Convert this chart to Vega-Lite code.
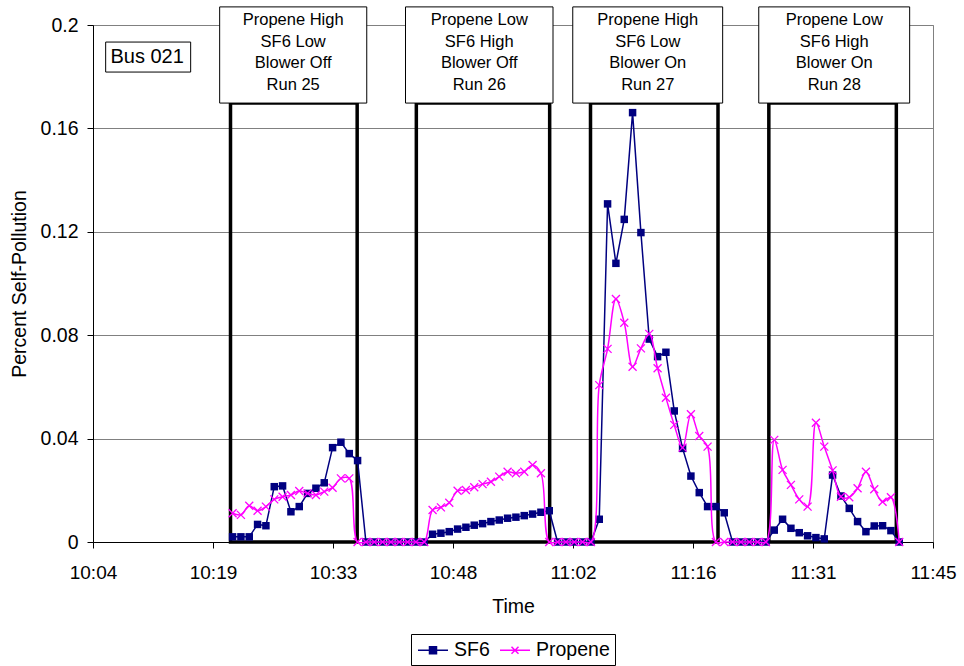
{
  "$schema": "https://vega.github.io/schema/vega-lite/v6.json",
  "width": 840,
  "height": 517,
  "autosize": {"type": "none"},
  "padding": {"left": 93, "top": 25, "right": 31, "bottom": 124},
  "background": "white",
  "config": {"font": "Liberation Sans", "view": {"stroke": "#808080", "strokeWidth": 1}},
  "datasets": {
    "pts": [
      {"t":621.55,"s":"SF6","v":0.002},{"t":622.55,"s":"SF6","v":0.002},{"t":623.55,"s":"SF6","v":0.002},{"t":624.55,"s":"SF6","v":0.0068},{"t":625.55,"s":"SF6","v":0.0063},{"t":626.55,"s":"SF6","v":0.0214},{"t":627.55,"s":"SF6","v":0.0217},{"t":628.55,"s":"SF6","v":0.0117},{"t":629.55,"s":"SF6","v":0.0137},{"t":630.55,"s":"SF6","v":0.0188},{"t":631.55,"s":"SF6","v":0.0208},{"t":632.55,"s":"SF6","v":0.0229},{"t":633.55,"s":"SF6","v":0.0365},{"t":634.55,"s":"SF6","v":0.0386},{"t":635.55,"s":"SF6","v":0.0342},{"t":636.55,"s":"SF6","v":0.0315},
      {"t":637.55,"s":"SF6","v":0},{"t":638.55,"s":"SF6","v":0},{"t":639.55,"s":"SF6","v":0},{"t":640.55,"s":"SF6","v":0},{"t":641.55,"s":"SF6","v":0},{"t":642.55,"s":"SF6","v":0},{"t":643.55,"s":"SF6","v":0},{"t":644.55,"s":"SF6","v":0},
      {"t":645.55,"s":"SF6","v":0.003},{"t":646.55,"s":"SF6","v":0.0034},{"t":647.55,"s":"SF6","v":0.004},{"t":648.55,"s":"SF6","v":0.005},{"t":649.55,"s":"SF6","v":0.0057},{"t":650.55,"s":"SF6","v":0.0065},{"t":651.55,"s":"SF6","v":0.0071},{"t":652.55,"s":"SF6","v":0.0079},{"t":653.55,"s":"SF6","v":0.0085},{"t":654.55,"s":"SF6","v":0.0092},{"t":655.55,"s":"SF6","v":0.0096},{"t":656.55,"s":"SF6","v":0.0102},{"t":657.55,"s":"SF6","v":0.0108},{"t":658.55,"s":"SF6","v":0.0115},{"t":659.55,"s":"SF6","v":0.0121},
      {"t":660.55,"s":"SF6","v":0},{"t":661.55,"s":"SF6","v":0},{"t":662.55,"s":"SF6","v":0},{"t":663.55,"s":"SF6","v":0},{"t":664.55,"s":"SF6","v":0},
      {"t":665.55,"s":"SF6","v":0.0088},{"t":666.55,"s":"SF6","v":0.1308},{"t":667.55,"s":"SF6","v":0.1078},{"t":668.55,"s":"SF6","v":0.1248},{"t":669.55,"s":"SF6","v":0.1661},{"t":670.55,"s":"SF6","v":0.1197},{"t":671.55,"s":"SF6","v":0.0785},{"t":672.55,"s":"SF6","v":0.0717},{"t":673.55,"s":"SF6","v":0.0734},{"t":674.55,"s":"SF6","v":0.0507},{"t":675.55,"s":"SF6","v":0.0362},{"t":676.55,"s":"SF6","v":0.0255},{"t":677.55,"s":"SF6","v":0.0191},{"t":678.55,"s":"SF6","v":0.0137},{"t":679.55,"s":"SF6","v":0.0137},{"t":680.55,"s":"SF6","v":0.0113},
      {"t":681.55,"s":"SF6","v":0},{"t":682.55,"s":"SF6","v":0},{"t":683.55,"s":"SF6","v":0},{"t":684.55,"s":"SF6","v":0},{"t":685.55,"s":"SF6","v":0},
      {"t":686.55,"s":"SF6","v":0.0046},{"t":687.55,"s":"SF6","v":0.0088},{"t":688.55,"s":"SF6","v":0.0053},{"t":689.55,"s":"SF6","v":0.0036},{"t":690.55,"s":"SF6","v":0.0024},{"t":691.55,"s":"SF6","v":0.0017},{"t":692.55,"s":"SF6","v":0.0012},{"t":693.55,"s":"SF6","v":0.0259},{"t":694.55,"s":"SF6","v":0.0178},{"t":695.55,"s":"SF6","v":0.013},{"t":696.55,"s":"SF6","v":0.0079},{"t":697.55,"s":"SF6","v":0.004},{"t":698.55,"s":"SF6","v":0.0062},{"t":699.55,"s":"SF6","v":0.0063},{"t":700.55,"s":"SF6","v":0.0044},{"t":701.55,"s":"SF6","v":0},
      {"t":621.55,"s":"Propene","v":0.0111},{"t":622.55,"s":"Propene","v":0.0105},{"t":623.55,"s":"Propene","v":0.014},{"t":624.55,"s":"Propene","v":0.0121},{"t":625.55,"s":"Propene","v":0.0137},{"t":626.55,"s":"Propene","v":0.0165},{"t":627.55,"s":"Propene","v":0.0175},{"t":628.55,"s":"Propene","v":0.0182},{"t":629.55,"s":"Propene","v":0.0197},{"t":630.55,"s":"Propene","v":0.0188},{"t":631.55,"s":"Propene","v":0.0182},{"t":632.55,"s":"Propene","v":0.0195},{"t":633.55,"s":"Propene","v":0.021},{"t":634.55,"s":"Propene","v":0.0246},{"t":635.55,"s":"Propene","v":0.0246},{"t":636.55,"s":"Propene","v":0},
      {"t":637.55,"s":"Propene","v":0},{"t":638.55,"s":"Propene","v":0},{"t":639.55,"s":"Propene","v":0},{"t":640.55,"s":"Propene","v":0},{"t":641.55,"s":"Propene","v":0},{"t":642.55,"s":"Propene","v":0},{"t":643.55,"s":"Propene","v":0},{"t":644.55,"s":"Propene","v":0},
      {"t":645.55,"s":"Propene","v":0.0124},{"t":646.55,"s":"Propene","v":0.0134},{"t":647.55,"s":"Propene","v":0.0152},{"t":648.55,"s":"Propene","v":0.0198},{"t":649.55,"s":"Propene","v":0.0201},{"t":650.55,"s":"Propene","v":0.0212},{"t":651.55,"s":"Propene","v":0.0224},{"t":652.55,"s":"Propene","v":0.0233},{"t":653.55,"s":"Propene","v":0.0253},{"t":654.55,"s":"Propene","v":0.0272},{"t":655.55,"s":"Propene","v":0.0266},{"t":656.55,"s":"Propene","v":0.0272},{"t":657.55,"s":"Propene","v":0.0298},{"t":658.55,"s":"Propene","v":0.0266},{"t":659.55,"s":"Propene","v":0},
      {"t":660.55,"s":"Propene","v":0},{"t":661.55,"s":"Propene","v":0},{"t":662.55,"s":"Propene","v":0},{"t":663.55,"s":"Propene","v":0},{"t":664.55,"s":"Propene","v":0},
      {"t":665.55,"s":"Propene","v":0.0607},{"t":666.55,"s":"Propene","v":0.0747},{"t":667.55,"s":"Propene","v":0.094},{"t":668.55,"s":"Propene","v":0.0848},{"t":669.55,"s":"Propene","v":0.0678},{"t":670.55,"s":"Propene","v":0.0749},{"t":671.55,"s":"Propene","v":0.0805},{"t":672.55,"s":"Propene","v":0.0672},{"t":673.55,"s":"Propene","v":0.0558},{"t":674.55,"s":"Propene","v":0.0453},{"t":675.55,"s":"Propene","v":0.0365},{"t":676.55,"s":"Propene","v":0.0494},{"t":677.55,"s":"Propene","v":0.041},{"t":678.55,"s":"Propene","v":0.0369},{"t":679.55,"s":"Propene","v":0},{"t":680.55,"s":"Propene","v":0},
      {"t":681.55,"s":"Propene","v":0},{"t":682.55,"s":"Propene","v":0},{"t":683.55,"s":"Propene","v":0},{"t":684.55,"s":"Propene","v":0},{"t":685.55,"s":"Propene","v":0},
      {"t":686.55,"s":"Propene","v":0.0395},{"t":687.55,"s":"Propene","v":0.0279},{"t":688.55,"s":"Propene","v":0.0221},{"t":689.55,"s":"Propene","v":0.0165},{"t":690.55,"s":"Propene","v":0.0137},{"t":691.55,"s":"Propene","v":0.0461},{"t":692.55,"s":"Propene","v":0.0369},{"t":693.55,"s":"Propene","v":0.0277},{"t":694.55,"s":"Propene","v":0.0175},{"t":695.55,"s":"Propene","v":0.0173},{"t":696.55,"s":"Propene","v":0.0208},{"t":697.55,"s":"Propene","v":0.0272},{"t":698.55,"s":"Propene","v":0.0204},{"t":699.55,"s":"Propene","v":0.0156},{"t":700.55,"s":"Propene","v":0.0173},{"t":701.55,"s":"Propene","v":0}
    ],
    "runs": [
      {"a":621.3,"b":636.5},{"a":643.6,"b":659.6},{"a":664.5,"b":679.8},{"a":685.9,"b":701.2}
    ],
    "boxes": [
      {"a":620.0,"b":637.65,"c":628.82,"label":"Propene High\nSF6 Low\nBlower Off\nRun 25"},
      {"a":642.3,"b":660.0,"c":651.15,"label":"Propene Low\nSF6 High\nBlower Off\nRun 26"},
      {"a":662.37,"b":680.36,"c":671.37,"label":"Propene High\nSF6 Low\nBlower On\nRun 27"},
      {"a":684.69,"b":702.8,"c":693.75,"label":"Propene Low\nSF6 High\nBlower On\nRun 28"}
    ],
    "bus": [
      {"a":606.32,"b":616.52,"c":611.3,"label":"Bus 021"}
    ]
  },
  "layer": [
    {
      "data": {"name": "pts"},
      "transform": [{"filter": "datum.s === 'SF6'"}],
      "mark": {"type": "line", "strokeWidth": 1.5, "opacity": 0},
      "encoding": {
        "x": {"field": "t", "type": "quantitative", "scale": {"domain": [604.8, 705.6], "nice": false, "zero": false},
          "axis": {"values": [604.8, 619.2, 633.6, 648, 662.4, 676.8, 691.2, 705.6],
            "labelExpr": "floor(datum.value/60) + ':' + (floor(datum.value%60) < 10 ? '0' : '') + floor(datum.value%60)",
            "grid": false, "domainColor": "black", "domainWidth": 1, "tickColor": "black", "tickSize": 6,
            "labelFontSize": 19, "labelColor": "black", "labelPadding": 15, "labelFlush": false, "labelOverlap": false,
            "title": "Time", "titleFontSize": 19.5, "titleFontWeight": "normal", "titleColor": "black", "titleY": 55, "titleX": 420}},
        "y": {"field": "v", "type": "quantitative", "scale": {"domain": [0, 0.2], "nice": false},
          "axis": {"values": [0, 0.04, 0.08, 0.12, 0.16, 0.2],
            "labelExpr": "format(datum.value, '~g')",
            "grid": true, "gridColor": "#808080", "gridWidth": 1, "domainColor": "black", "domainWidth": 1, "tickColor": "black", "tickSize": 6,
            "labelFontSize": 19.5, "labelColor": "black", "labelPadding": 9,
            "title": "Percent Self-Pollution", "titleFontSize": 19.5, "titleFontWeight": "normal", "titleColor": "black",
            "titleX": -68, "titleY": 258.5, "titleAngle": 270, "titleBaseline": "alphabetic", "titleAlign": "center"}}
      }
    },
    {
      "data": {"name": "runs"},
      "mark": {"type": "rect", "fillOpacity": 0, "stroke": "black", "strokeWidth": 3.5},
      "encoding": {
        "x": {"field": "a", "type": "quantitative", "scale": {"domain": [604.8, 705.6], "nice": false, "zero": false}},
        "x2": {"field": "b"},
        "y": {"datum": 0, "type": "quantitative", "scale": {"domain": [0, 0.2], "nice": false}},
        "y2": {"datum": 0.1698}
      }
    },
    {
      "data": {"name": "pts"},
      "transform": [{"filter": "datum.s === 'SF6'"}],
      "mark": {"type": "line", "strokeWidth": 1.5},
      "encoding": {
        "x": {"field": "t", "type": "quantitative", "scale": {"domain": [604.8, 705.6], "nice": false, "zero": false}},
        "y": {"field": "v", "type": "quantitative", "scale": {"domain": [0, 0.2], "nice": false}},
        "color": {"field": "s", "type": "nominal", "scale": {"domain": ["SF6", "Propene"], "range": ["#000080", "#FF00FF"]},
          "legend": {"title": null, "orient": "none", "legendX": 318, "legendY": 609, "direction": "horizontal",
            "strokeColor": "black", "fillColor": "white", "padding": 5, "columnPadding": 7,
            "labelFontSize": 19.5, "labelColor": "black", "labelOffset": 16, "symbolSize": 400,
            "encode": {"symbols": {"update": {
              "shape": {"signal": "datum.value === 'SF6' ? 'M-0.9,0H2.1M0.25,-0.35H0.95V0.35H0.25Z' : 'M-0.9,0H2.1M0.25,-0.35L0.95,0.35M0.95,-0.35L0.25,0.35'"},
              "fill": {"signal": "datum.value === 'SF6' ? '#000080' : 'transparent'"},
              "stroke": {"signal": "datum.value === 'SF6' ? '#000080' : '#FF00FF'"},
              "strokeWidth": {"value": 1.5},
              "opacity": {"value": 1},
              "fillOpacity": {"value": 1},
              "strokeOpacity": {"value": 1}
            }}}}}
      }
    },
    {
      "data": {"name": "pts"},
      "transform": [{"filter": "datum.s === 'SF6'"}],
      "mark": {"type": "point", "shape": "square", "filled": true, "size": 56, "opacity": 1},
      "encoding": {
        "x": {"field": "t", "type": "quantitative", "scale": {"domain": [604.8, 705.6], "nice": false, "zero": false}},
        "y": {"field": "v", "type": "quantitative", "scale": {"domain": [0, 0.2], "nice": false}},
        "color": {"field": "s", "type": "nominal", "scale": {"domain": ["SF6", "Propene"], "range": ["#000080", "#FF00FF"]}}
      }
    },
    {
      "data": {"name": "pts"},
      "transform": [{"filter": "datum.s === 'Propene'"}],
      "mark": {"type": "line", "strokeWidth": 1.5, "interpolate": "catmull-rom"},
      "encoding": {
        "x": {"field": "t", "type": "quantitative", "scale": {"domain": [604.8, 705.6], "nice": false, "zero": false}},
        "y": {"field": "v", "type": "quantitative", "scale": {"domain": [0, 0.2], "nice": false}},
        "color": {"field": "s", "type": "nominal", "scale": {"domain": ["SF6", "Propene"], "range": ["#000080", "#FF00FF"]}}
      }
    },
    {
      "data": {"name": "pts"},
      "transform": [{"filter": "datum.s === 'Propene'"}],
      "mark": {"type": "point", "shape": "M-1,-1L1,1M1,-1L-1,1", "filled": false, "size": 64, "strokeWidth": 1.3, "opacity": 1},
      "encoding": {
        "x": {"field": "t", "type": "quantitative", "scale": {"domain": [604.8, 705.6], "nice": false, "zero": false}},
        "y": {"field": "v", "type": "quantitative", "scale": {"domain": [0, 0.2], "nice": false}},
        "color": {"field": "s", "type": "nominal", "scale": {"domain": ["SF6", "Propene"], "range": ["#000080", "#FF00FF"]}}
      }
    },
    {
      "data": {"name": "boxes"},
      "mark": {"type": "rect", "fill": "white", "stroke": "black", "strokeWidth": 1},
      "encoding": {
        "x": {"field": "a", "type": "quantitative", "scale": {"domain": [604.8, 705.6], "nice": false, "zero": false}},
        "x2": {"field": "b"},
        "y": {"datum": 0.207, "type": "quantitative", "scale": {"domain": [0, 0.2], "nice": false}},
        "y2": {"datum": 0.1698}
      }
    },
    {
      "data": {"name": "boxes"},
      "mark": {"type": "text", "fontSize": 16.5, "lineHeight": 21.7, "lineBreak": "\n", "align": "center", "baseline": "middle", "color": "black"},
      "encoding": {
        "x": {"field": "c", "type": "quantitative", "scale": {"domain": [604.8, 705.6], "nice": false, "zero": false}},
        "y": {"datum": 0.2019, "type": "quantitative", "scale": {"domain": [0, 0.2], "nice": false}},
        "text": {"field": "label"}
      }
    },
    {
      "data": {"name": "bus"},
      "mark": {"type": "rect", "fill": "white", "stroke": "black", "strokeWidth": 1},
      "encoding": {
        "x": {"field": "a", "type": "quantitative", "scale": {"domain": [604.8, 705.6], "nice": false, "zero": false}},
        "x2": {"field": "b"},
        "y": {"datum": 0.1934, "type": "quantitative", "scale": {"domain": [0, 0.2], "nice": false}},
        "y2": {"datum": 0.1818}
      }
    },
    {
      "data": {"name": "bus"},
      "mark": {"type": "text", "fontSize": 20, "align": "center", "baseline": "middle", "color": "black"},
      "encoding": {
        "x": {"field": "c", "type": "quantitative", "scale": {"domain": [604.8, 705.6], "nice": false, "zero": false}},
        "y": {"datum": 0.1875, "type": "quantitative", "scale": {"domain": [0, 0.2], "nice": false}},
        "text": {"field": "label"}
      }
    }
  ]
}
